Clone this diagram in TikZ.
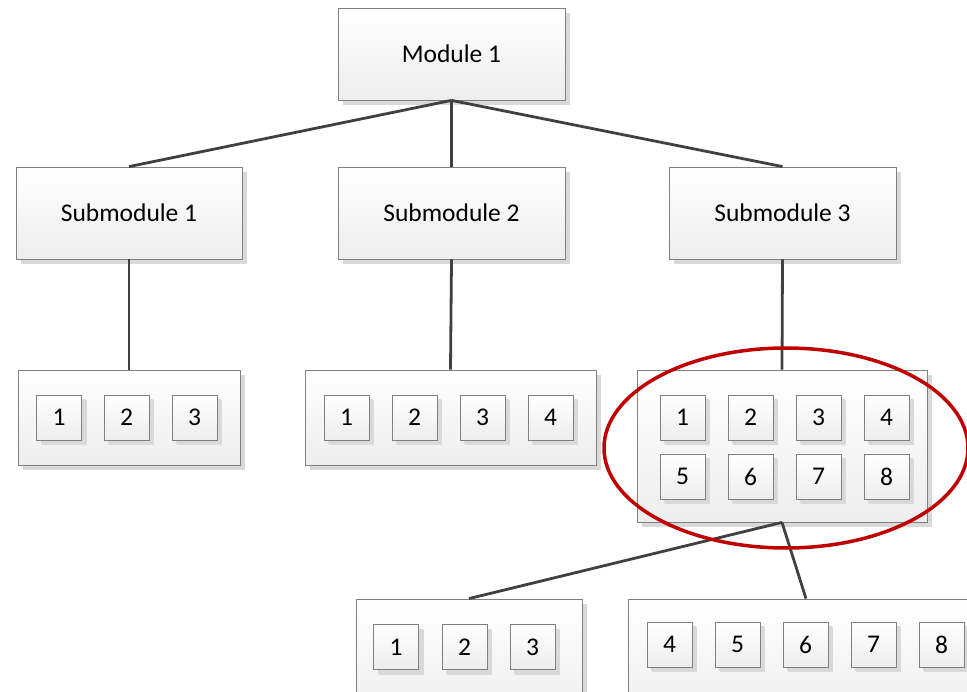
\documentclass[tikz,border=0pt]{standalone}
\usepackage{fontspec}
\setmainfont{Carlito}
\usetikzlibrary{shadows,shapes.geometric}
\definecolor{linegray}{HTML}{404040}
\definecolor{boxline}{HTML}{7F7F7F}
\definecolor{shadowgray}{HTML}{D9D9D9}
\definecolor{hired}{HTML}{C00000}
\tikzset{
  basebox/.style={draw=boxline, line width=0.8pt, top color=white, bottom color=black!7,
    inner sep=0pt, font=\fontsize{25.5}{30}\selectfont,
    drop shadow={shadow xshift=5pt, shadow yshift=-5pt, fill=shadowgray, opacity=1}},
  modbox/.style={basebox, minimum width=227pt, minimum height=92pt},
  grpbox/.style={basebox},
  numbox/.style={basebox, minimum width=45pt, minimum height=45pt,
    drop shadow={shadow xshift=4pt, shadow yshift=-4pt, fill=shadowgray, opacity=1}},
  conn/.style={draw=linegray, line width=2.8pt},
  mark ring/.style={draw=hired, line width=3.5pt}
}
\begin{document}
\begin{tikzpicture}[x=1pt, y=-1pt]
\useasboundingbox (0,0) rectangle (967,692);
\clip (0,0) rectangle (967,692);
% boxes
\node[modbox] (m1) at (451.5,54) {Module 1};
\node[modbox, minimum width=226pt] (s1) at (129,213) {Submodule 1};
\node[modbox] (s2) at (451.5,213) {Submodule 2};
\node[modbox] (s3) at (782.5,213) {Submodule 3};
\node[grpbox, minimum width=222pt, minimum height=95pt] (g1) at (129,417.5) {};
\node[grpbox, minimum width=291pt, minimum height=95pt] (g2) at (450.5,417.5) {};
\node[grpbox, minimum width=290pt, minimum height=152pt] (g3) at (782,446) {};
\node[grpbox, minimum width=226pt, minimum height=122pt] (g4) at (469,660) {};
\node[grpbox, minimum width=356pt, minimum height=122pt] (g5) at (806,660) {};
% group 1
\node[numbox] (a1) at (59,417.5) {1};
\node[numbox] (a2) at (126.5,417.5) {2};
\node[numbox] (a3) at (194.5,417.5) {3};
% group 2
\node[numbox] (b1) at (346.5,417.5) {1};
\node[numbox] (b2) at (414.5,417.5) {2};
\node[numbox] (b3) at (482.5,417.5) {3};
\node[numbox] (b4) at (550.5,417.5) {4};
% group 3
\node[numbox] (d1) at (682.5,417.5) {1};
\node[numbox] (d2) at (750.5,417.5) {2};
\node[numbox] (d3) at (818.5,417.5) {3};
\node[numbox] (d4) at (886.5,417.5) {4};
\node[numbox] (d5) at (682.5,476.5) {5};
\node[numbox] (d6) at (750.5,476.5) {6};
\node[numbox] (d7) at (818.5,476.5) {7};
\node[numbox] (d8) at (886.5,476.5) {8};
% group 4
\node[numbox] (e1) at (396,647) {1};
\node[numbox] (e2) at (464.5,647) {2};
\node[numbox] (e3) at (532.5,647) {3};
% group 5
\node[numbox] (f4) at (669.5,644.5) {4};
\node[numbox] (f5) at (737.5,644.5) {5};
\node[numbox] (f6) at (805.5,644.5) {6};
\node[numbox] (f7) at (873.5,644.5) {7};
\node[numbox] (f8) at (941.5,644.5) {8};
% connectors
\draw[conn] (m1.south) -- (s1.north);
\draw[conn] (m1.south) -- (s2.north);
\draw[conn] (m1.south) -- (s3.north);
\draw[conn] (s1.south) -- (g1.north);
\draw[conn] (s2.south) -- (g2.north);
\draw[conn] (s3.south) -- (g3.north);
\draw[conn] (g3.south) -- (g4.north);
\draw[conn] (g3.south) -- (g5.north);
% highlight ring
\node[mark ring, ellipse, minimum width=364pt, minimum height=200pt, inner sep=0pt] (ring) at (786,448) {};
\end{tikzpicture}
\end{document}
